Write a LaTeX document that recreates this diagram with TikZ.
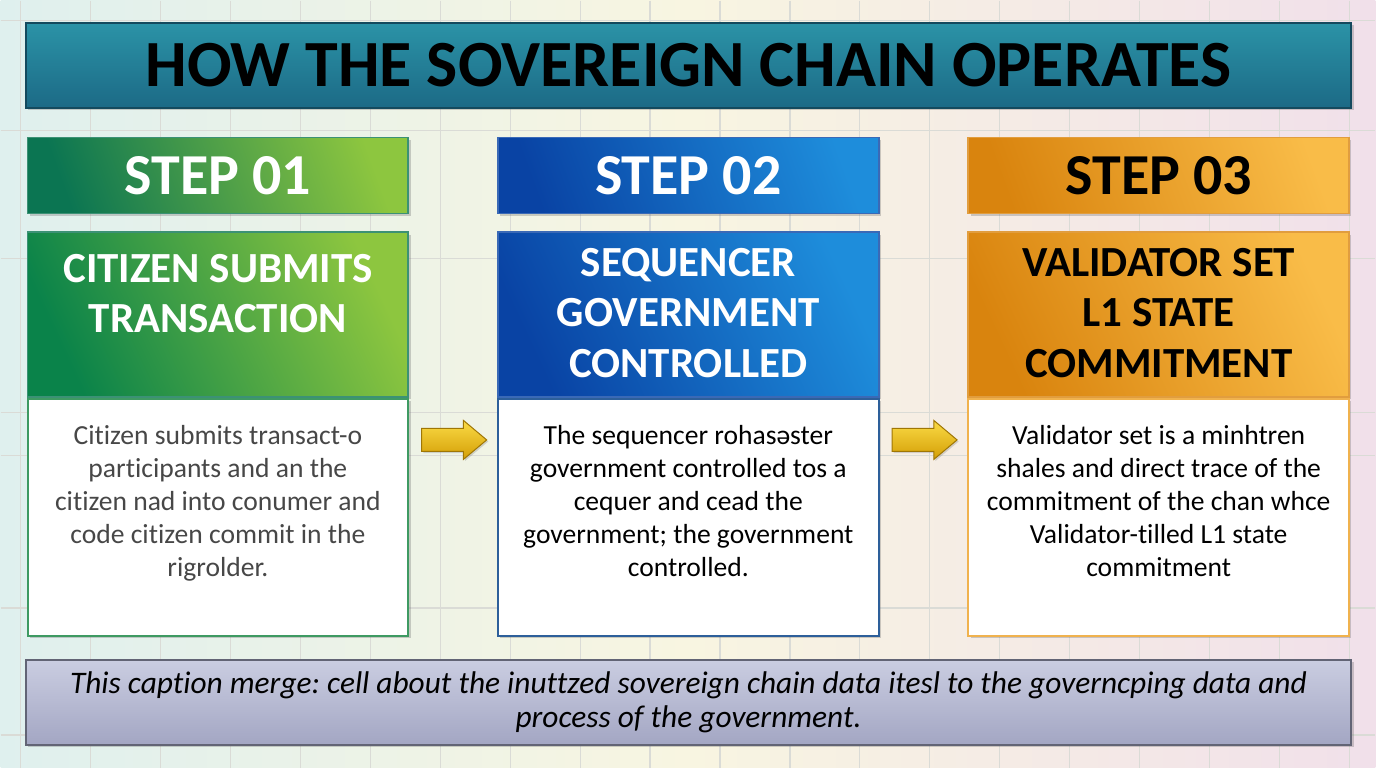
\documentclass[tikz,border=0pt]{standalone}
\usepackage{fontspec}
\setsansfont{Carlito}[Ligatures=NoCommon]
\usetikzlibrary{
  shapes.arrows,
  positioning,
  calc,
  shadows
}
\frenchspacing
\definecolor{titleteal}{HTML}{2B93A7}
\definecolor{titletealdark}{HTML}{1C6A86}
\definecolor{stepgreen}{HTML}{0B7552}
\definecolor{stepgreenlight}{HTML}{8DC63F}
\definecolor{stepblue}{HTML}{0943A4}
\definecolor{stepbluelight}{HTML}{1E8DDB}
\definecolor{steporange}{HTML}{D9840E}
\definecolor{steporangelight}{HTML}{F9BC48}
\definecolor{capviolet}{HTML}{CACDE1}
\definecolor{capvioletdark}{HTML}{A3A6C3}
\definecolor{arrowgold}{HTML}{FADB46}
\definecolor{arrowgolddark}{HTML}{D49E05}
\definecolor{gridgray}{HTML}{DADBD6}
\definecolor{bodygray}{HTML}{474747}
\definecolor{greenedge}{HTML}{3E9A62}
\definecolor{blueedge}{HTML}{2D5F9A}
\definecolor{orangeedge}{HTML}{F0B24E}
\definecolor{bgleft}{HTML}{DFF0EE}
\definecolor{bgmid}{HTML}{F8F5E1}
\definecolor{bgright}{HTML}{F1E0EA}

\begin{document}
\begin{tikzpicture}[
    x=0.5pt, y=-0.5pt,
    every node/.style={font=\sffamily},
    boxshadow/.style={drop shadow={shadow xshift=1.2pt, shadow yshift=-1.2pt,
                 opacity=0.3, fill=black!60}},
    banner/.style={rectangle, minimum width=663.5pt, minimum height=42.5pt,
                 line width=1pt, boxshadow},
    stephead/.style={rectangle, minimum width=190.5pt, minimum height=38pt,
                 line width=0.9pt, boxshadow,
                 font=\sffamily\bfseries\fontsize{29}{34}\selectfont},
    titlebox/.style={rectangle, minimum width=190.5pt, minimum height=82.5pt,
                 line width=0.9pt, boxshadow},
    titletext/.style={align=center, font=\sffamily\bfseries\fontsize{21.5}{25.2}\selectfont},
    bodybox/.style={rectangle, fill=white, minimum width=190.5pt,
                 minimum height=118.5pt, line width=1pt, boxshadow},
    bodytext/.style={align=center, font=\sffamily\fontsize{13.8}{16.5}\selectfont},
    blockarrow/.style={single arrow, single arrow head extend=4pt,
                 single arrow tip angle=80, inner sep=5.5pt, minimum height=32.5pt,
                 top color=arrowgold, bottom color=arrowgolddark,
                 draw=arrowgolddark!75!black, line width=0.5pt, anchor=tail,
                 drop shadow={shadow xshift=0.8pt, shadow yshift=-0.8pt, opacity=0.3}},
]

% Background
\shade[left color=bgleft, right color=bgright, middle color=bgmid]
  (0,0) rectangle (1376,768);
\foreach \gx in {20,90,...,1350}
  \draw[gridgray, line width=0.6pt] (\gx,0) -- (\gx,768);
\foreach \gy in {20,130,258,412,455,608,735}
  \draw[gridgray, line width=0.6pt] (0,\gy) -- (1376,\gy);

\node[banner, top color=titleteal, bottom color=titletealdark, draw=titletealdark!70!black]
  (banner) at (688.5,64.5) {\bfseries\fontsize{33}{40}\selectfont HOW THE SOVEREIGN CHAIN OPERATES};

\node[stephead, left color=stepgreen, right color=stepgreenlight, shading angle=110,
      draw=stepgreen!80, text=white] (h1) at (217.5,175) {STEP 01};
\node[stephead, left color=stepblue, right color=stepbluelight, shading angle=110,
      draw=stepblue!80, text=white, right=44pt of h1] (h2) {STEP 02};
\node[stephead, left color=steporange, right color=steporangelight, shading angle=110,
      draw=steporange!80, right=44pt of h2] (h3) {STEP 03};

\node[titlebox, left color=stepgreen!90!green, right color=stepgreenlight, shading angle=115,
      draw=stepgreen!80, below=8.5pt of h1] (t1) {};
\node[titlebox, left color=stepblue, right color=stepbluelight, shading angle=115,
      draw=stepblue!80, below=8.5pt of h2] (t2) {};
\node[titlebox, left color=steporange, right color=steporangelight, shading angle=115,
      draw=steporange!80, below=8.5pt of h3] (t3) {};

\node[titletext, text=white, below=8pt of t1.north] (n1) {CITIZEN SUBMITS\\TRANSACTION};
\node[titletext, text=white, below=5pt of t2.north] (n2) {SEQUENCER\\GOVERNMENT\\CONTROLLED};
\node[titletext, text=black, below=5pt of t3.north] (n3) {VALIDATOR SET\\L1 STATE\\COMMITMENT};

\node[bodybox, draw=greenedge, below=0pt of t1] (b1) {};
\node[bodybox, draw=blueedge, below=0pt of t2] (b2) {};
\node[bodybox, draw=orangeedge, below=0pt of t3] (b3) {};

% Body texts
\node[bodytext, text=bodygray, below=10pt of b1.north] (d1)
  {Citizen submits transact-o\\participants and an the\\citizen nad into conumer and\\code citizen commit in the\\rigrolder.};
\node[bodytext, text=black, below=10pt of b2.north] (d2)
  {The sequencer rohasəster\\government controlled tos a\\cequer and cead the\\government; the government\\controlled.};
\node[bodytext, text=black, below=10pt of b3.north] (d3)
  {Validator set is a minhtren\\shales and direct trace of the\\commitment of the chan whce\\Validator-tilled L1 state\\commitment};

\node[blockarrow] (a1) at ($(b1.north east)+(6pt,-21pt)$) {};
\node[blockarrow] (a2) at ($(b2.north east)+(6pt,-21pt)$) {};

\node[banner, top color=capviolet, bottom color=capvioletdark, draw=capvioletdark!60!black,
      align=center, font=\sffamily\itshape\fontsize{15.7}{17.3}\selectfont]
  (caption) at (688.5,702.5)
  {This caption merge: cell about the inuttzed sovereign chain data itesl to the governcping data and\\process of the government.};

\end{tikzpicture}
\end{document}
